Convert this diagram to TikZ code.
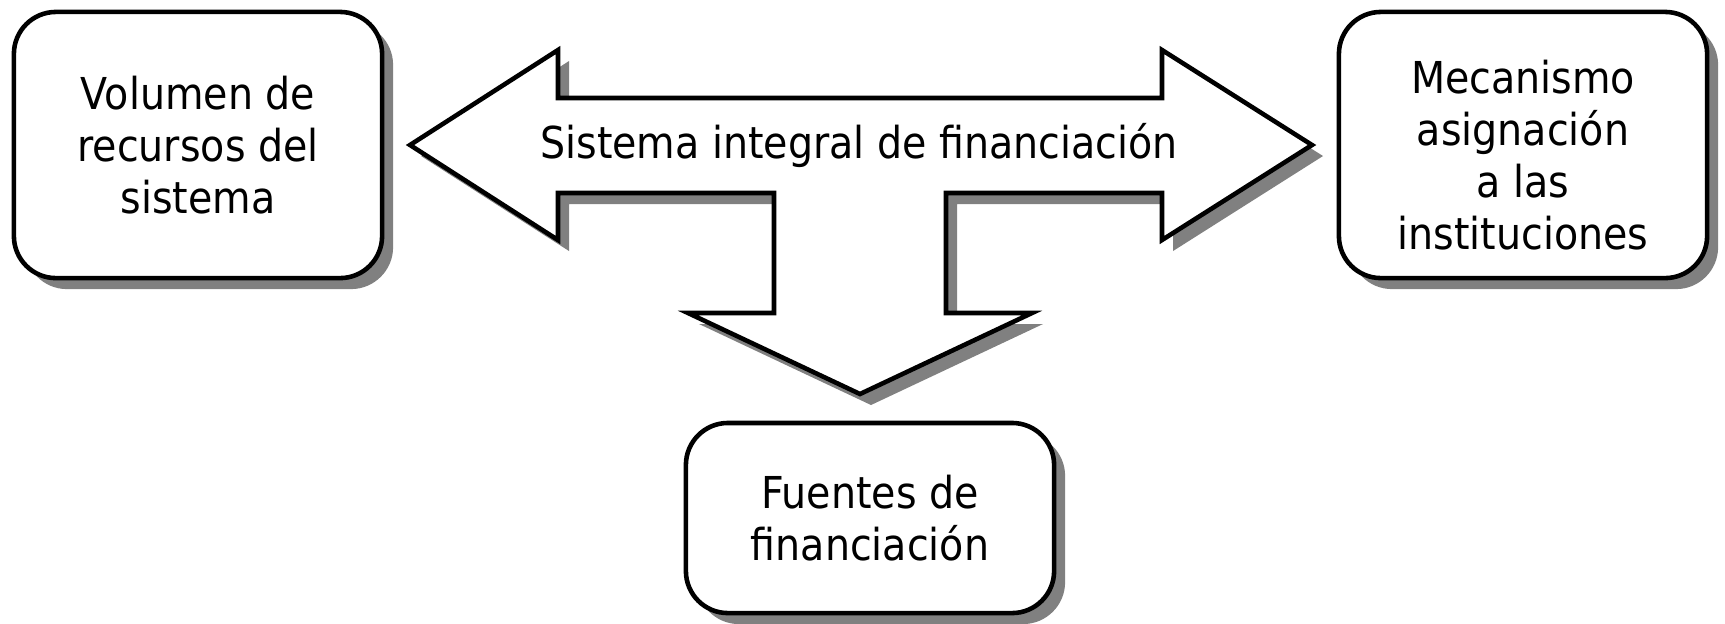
\documentclass[tikz,border=0pt]{standalone}
\usepackage{fontspec}
\setmainfont{DejaVu Sans}[FakeStretch=0.9]
\usetikzlibrary{shadows}

\begin{document}
\begin{tikzpicture}[
    x=0.01cm, y=-0.01cm,
    shade/.style={drop shadow={shadow xshift=0.11cm, shadow yshift=-0.11cm, fill=black!50, opacity=1}},
    box/.style={rectangle, rounded corners=0.42cm, draw=black, fill=white, line width=1.3pt, shade, minimum width=3.68cm, inner sep=0pt, align=center, font=\fontsize{12.5}{14.8}\selectfont},
    bigarrow/.style={draw=black, fill=white, line width=1.3pt, line join=miter, shade},
    label/.style={inner sep=0pt, font=\fontsize{12.5}{14.8}\selectfont}
]
\useasboundingbox (0,0) rectangle (1725,623);

% three-way arrow
\draw[bigarrow] (410,145) -- (558,50) -- (558,98) -- (1162,98) -- (1162,50) -- (1312,145)
    -- (1162,240) -- (1162,193) -- (946,193) -- (946,313) -- (1032,313) -- (860,394)
    -- (688,313) -- (774,313) -- (774,193) -- (558,193) -- (558,240) -- cycle;
\node[label] (sistema) at (859,145) {Sistema integral de financiación};

\node[box, minimum height=2.66cm] (volumen) at (198,145) {Volumen de\\recursos del\\sistema};
\node[box, minimum height=2.66cm] (mecanismo) at (1523,145) {\raisebox{0pt}[0.53cm]{Mecanismo}\\asignación\\a las\\instituciones};
\node[box, minimum height=1.9cm] (fuentes) at (870,518) {Fuentes de\\financiación};

\end{tikzpicture}
\end{document}
